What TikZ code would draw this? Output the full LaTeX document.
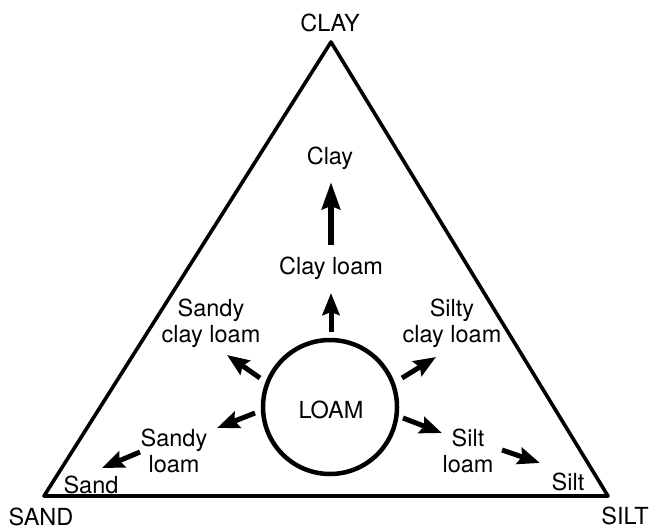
\documentclass[tikz,border=0pt]{standalone}
\usepackage{fontspec}
\setmainfont{TeX Gyre Heros}
\usetikzlibrary{calc, positioning}
\usetikzlibrary{arrows.meta}

\tikzset{
  lbl/.style={font=\fontsize{23.5}{26}\selectfont, align=center, inner sep=0pt},
  push/.style={line width=5pt, -{Stealth[length=22pt, width=17pt, inset=3pt]}},
  bigpush/.style={line width=6pt, -{Stealth[length=27pt, width=18pt, inset=3pt]}}
}

\begin{document}
\begin{tikzpicture}[x=1pt, y=1pt]
\useasboundingbox (0,0) rectangle (652,531);
\def\loamr{67}
\coordinate (A) at (44,35);
\coordinate (B) at (608,35);
\coordinate (C) at (331,489);
\coordinate (O) at (330,124);

\draw[line width=3.6pt, line join=round] (A) -- (B) -- (C) -- cycle;
\draw[line width=4.5pt] (O) circle (\loamr);

\node[lbl] (loam) at (331,121) {LOAM};
\node[lbl] (clay) at (330,508) {CLAY};
\node[lbl] (sand) at (41,14) {SAND};
\node[lbl] (silt) at (625,15) {SILT};

\node[lbl] (c) at (330,373) {Clay};
\node[lbl] (cl) at (331,263) {Clay loam};
\node[lbl] (scl) at (211,208) {Sandy\\clay loam};
\node[lbl] (sicl) at (452,208) {Silty\\clay loam};
\node[lbl] (sl) at (174,80) {Sandy\\loam};
\node[lbl] (sil) at (468,80) {Silt\\loam};
\node[lbl] (s) at (91,46) {Sand};
\node[lbl] (si) at (568,49) {Silt};

\coordinate (clT) at (331,199);
\coordinate (clH) at (331,238);
\coordinate (cT) at (331,286);
\coordinate (cH) at (331,349);
\coordinate (sclT) at (260,153);
\coordinate (sclH) at (227,176);
\coordinate (slT) at (255,118);
\coordinate (slH) at (217,103);
\coordinate (sT) at (140,79);
\coordinate (sH) at (102,63);
\coordinate (siclT) at (402,153);
\coordinate (siclH) at (436,174);
\coordinate (silT) at (403,113);
\coordinate (silH) at (442,98);
\coordinate (siT) at (502,81);
\coordinate (siH) at (540,68);

\draw[bigpush] (cT) -- (cH);
\draw[push] (clT) -- (clH);
\draw[push] (sclT) -- (sclH);
\draw[push] (slT) -- (slH);
\draw[push] (sT) -- (sH);
\draw[push] (siclT) -- (siclH);
\draw[push] (silT) -- (silH);
\draw[push] (siT) -- (siH);
\end{tikzpicture}
\end{document}
